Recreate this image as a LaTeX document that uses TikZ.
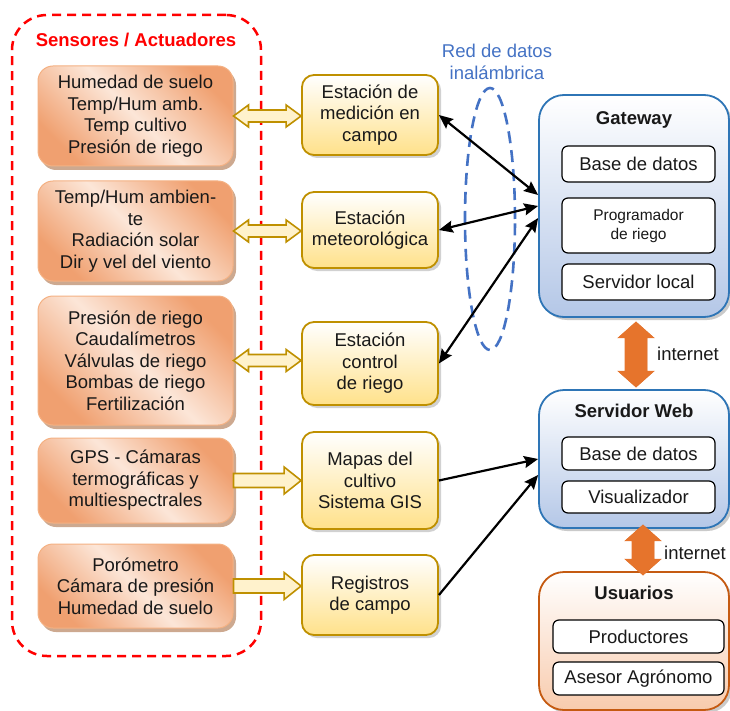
\documentclass[tikz,border=0pt]{standalone}
\usepackage{fontspec}
\setmainfont{Liberation Sans}
\usetikzlibrary{arrows.meta,shadows,calc,shapes.geometric}
\definecolor{orDark}{HTML}{F0A070}
\definecolor{orLight}{HTML}{FCE6D8}
\definecolor{orBorder}{HTML}{F4B183}
\definecolor{orShadow}{HTML}{C49A7C}
\definecolor{yBorder}{HTML}{BF9000}
\definecolor{yBottom}{HTML}{FFE18A}
\definecolor{yArrow}{HTML}{FFF2CC}
\definecolor{blBorder}{HTML}{2E75B6}
\definecolor{blBottom}{HTML}{B4C7E7}
\definecolor{usBorder}{HTML}{C55A11}
\definecolor{usBottom}{HTML}{F8CBAD}
\definecolor{netBlue}{HTML}{4472C4}
\definecolor{inetOr}{HTML}{E6742C}
\definecolor{inetLight}{HTML}{F7B080}
\definecolor{inetShadow}{HTML}{8E4A1C}
\newcommand\HollowDbl[2]{%
  \draw[hollowarrow] let \p1=(#1.east), \p2=(#2.west) in
    (\x1,\y1) -- (\x1+15pt,\y1+11pt) -- (\x1+15pt,\y1+6pt) -- (\x2-15pt,\y1+6pt)
    -- (\x2-15pt,\y1+11pt) -- (\x2,\y1) -- (\x2-15pt,\y1-11pt) -- (\x2-15pt,\y1-6pt)
    -- (\x1+15pt,\y1-6pt) -- (\x1+15pt,\y1-11pt) -- cycle;}
\newcommand\HollowOne[2]{%
  \draw[hollowarrow] let \p1=(#1.east), \p2=(#2.west) in
    (\x1,\y1+7pt) -- (\x2-17pt,\y1+7pt) -- (\x2-17pt,\y1+13.5pt) -- (\x2,\y1)
    -- (\x2-17pt,\y1-13.5pt) -- (\x2-17pt,\y1-7pt) -- (\x1,\y1-7pt) -- cycle;}
\newcommand\InetArrow[2]{%
  \fill[inetShadow, opacity=0.75, shift={(3pt,-4pt)}] let \p1=(#1), \p2=(#2) in
    (\x1,\y1) -- (\x1+18pt,\y1-16pt) -- (\x1+11pt,\y1-16pt) -- (\x1+11pt,\y2+16pt)
    -- (\x1+18pt,\y2+16pt) -- (\x1,\y2) -- (\x1-18pt,\y2+16pt) -- (\x1-11pt,\y2+16pt)
    -- (\x1-11pt,\y1-16pt) -- (\x1-18pt,\y1-16pt) -- cycle;
  \draw[draw=inetOr, line width=0.6pt, left color=inetOr, middle color=inetLight, right color=inetOr]
    let \p1=(#1), \p2=(#2) in
    (\x1,\y1) -- (\x1+18pt,\y1-16pt) -- (\x1+11pt,\y1-16pt) -- (\x1+11pt,\y2+16pt)
    -- (\x1+18pt,\y2+16pt) -- (\x1,\y2) -- (\x1-18pt,\y2+16pt) -- (\x1-11pt,\y2+16pt)
    -- (\x1-11pt,\y1-16pt) -- (\x1-18pt,\y1-16pt) -- cycle;}
\begin{document}
\begin{tikzpicture}[x=1pt,y=-1pt,
  base/.style={font=\fontsize{18.5}{21.5}\selectfont, text=black!90, align=center, inner sep=0pt},
  orbox/.style={base, rounded corners=15pt, draw=orBorder, line width=1pt,
    top color=orDark, bottom color=orDark, middle color=orLight, shading angle=-45,
    minimum width=195pt,
    drop shadow={shadow xshift=3pt, shadow yshift=-4pt, fill=orShadow, opacity=0.85}},
  ybox/.style={base, rounded corners=12pt, draw=yBorder, line width=1.8pt,
    top color=white, bottom color=yBottom, minimum width=136pt,
    drop shadow={shadow xshift=3pt, shadow yshift=-3pt, fill=black!30, opacity=0.6}},
  gwbox/.style={rounded corners=25pt, draw=blBorder, line width=1.8pt,
    top color=white, bottom color=blBottom, minimum width=190pt,
    drop shadow={shadow xshift=3pt, shadow yshift=-3pt, fill=black!35, opacity=0.6}},
  usbox/.style={rounded corners=25pt, draw=usBorder, line width=1.8pt,
    top color=white, bottom color=usBottom, minimum width=190pt,
    drop shadow={shadow xshift=3pt, shadow yshift=-3pt, fill=black!35, opacity=0.6}},
  inbox/.style={base, draw=black, line width=1.2pt, rounded corners=6pt, fill=white, minimum width=153pt},
  title/.style={base, font=\fontsize{18.5}{21.5}\selectfont\bfseries},
  hollowarrow/.style={draw=yBorder, fill=yArrow, line width=1.6pt, line join=miter},
  conn/.style={line width=2.2pt, >={Stealth[length=14pt,width=12pt,inset=2pt]}}
]
\useasboundingbox (0,0) rectangle (730,711);

% Sensors container
\node[draw=red, line width=2.5pt, dash pattern=on 9pt off 6pt, rounded corners=35pt,
  minimum width=249pt, minimum height=641pt] (sens) at (136.5,335.5) {};
\node[title, text=red] (senst) at (136,40) {Sensores / Actuadores};

% orange sensor boxes
\node[orbox, minimum height=100pt] (o1) at (135.5,116) {Humedad de suelo\\Temp/Hum amb.\\Temp cultivo\\Presión de riego};
\node[orbox, minimum height=100pt] (o2) at (135.5,231) {Temp/Hum ambien-\\te\\Radiación solar\\Dir y vel del viento};
\node[orbox, minimum height=129pt] (o3) at (135.5,360.5) {Presión de riego\\Caudalímetros\\Válvulas de riego\\Bombas de riego\\Fertilización};
\node[orbox, minimum height=85pt] (o4) at (135.5,480.5) {GPS - Cámaras\\termográficas y\\multiespectrales};
\node[orbox, minimum height=84pt] (o5) at (135.5,586) {Porómetro\\Cámara de presión\\Humedad de suelo};

% yellow station boxes
\node[ybox, minimum height=80pt] (y1) at (370,115) {Estación de\\medición en\\campo};
\node[ybox, minimum height=76pt] (y2) at (370,230) {Estación\\meteorológica};
\node[ybox, minimum height=83pt] (y3) at (370,363.5) {Estación\\control\\de riego};
\node[ybox, minimum height=97pt] (y4) at (370,480.5) {Mapas del\\cultivo\\Sistema GIS};
\node[ybox, minimum height=80pt] (y5) at (370,595) {Registros\\de campo};

% hollow arrows
\HollowDbl{o1}{y1}
\HollowDbl{o2}{y2}
\HollowDbl{o3}{y3}
\HollowOne{o4}{y4}
\HollowOne{o5}{y5}

% wireless network
\node[draw=netBlue, line width=2.6pt, dash pattern=on 12pt off 7pt, ellipse,
  minimum width=50pt, minimum height=262pt, inner sep=0pt] (net) at (490,219) {};
\node[base, text=netBlue] (netl) at (497,62) {Red de datos\\inalámbrica};

% Gateway
\node[gwbox, minimum height=222pt] (gw) at (634,206) {};
\node[title] (gwt) at (634,120) {Gateway};
\node[inbox, minimum height=36pt] (gb1) at (638.5,164) {Base de datos};
\node[inbox, minimum height=55pt, font=\fontsize{15.5}{19}\selectfont] (gb2) at (638.5,225.5) {Programador\\de riego};
\node[inbox, minimum height=36pt] (gb3) at (638.5,282) {Servidor local};

% Servidor Web
\node[gwbox, minimum height=138pt] (sw) at (634,459) {};
\node[title] (swt) at (634,411) {Servidor Web};
\node[inbox, minimum height=33pt] (sb1) at (638.5,453.5) {Base de datos};
\node[inbox, minimum height=32pt] (sb2) at (638.5,497) {Visualizador};

% Usuarios
\node[usbox, minimum height=138pt] (us) at (634,641) {};
\node[title] (ust) at (634,593) {Usuarios};
\node[inbox, minimum width=171pt, minimum height=33pt] (ub1) at (638.5,636.5) {Productores};
\node[inbox, minimum width=171pt, minimum height=33pt] (ub2) at (638.5,678.5) {Asesor Agrónomo};

% internet arrows
\InetArrow{[xshift=2pt,yshift=-4pt]gw.south}{[xshift=2pt,yshift=2pt]sw.north}
\node[base] (in1) at (688,354) {internet};
\InetArrow{[xshift=9pt,yshift=4pt]sw.south}{[xshift=9pt,yshift=-4pt]us.north}
\node[base] (in2) at (695,553) {internet};

% black connectors
\draw[conn,<->] (y1.east) -- ([yshift=11pt]gw.west);
\draw[conn,<->] (y2.east) -- (gw.west);
\draw[conn,<->] (y3.east) -- ([yshift=-12pt]gw.west);
\draw[conn,->] (y4.east) -- (sw.west);
\draw[conn,->] (y5.east) -- ([yshift=-16pt]sw.west);
\end{tikzpicture}
\end{document}
